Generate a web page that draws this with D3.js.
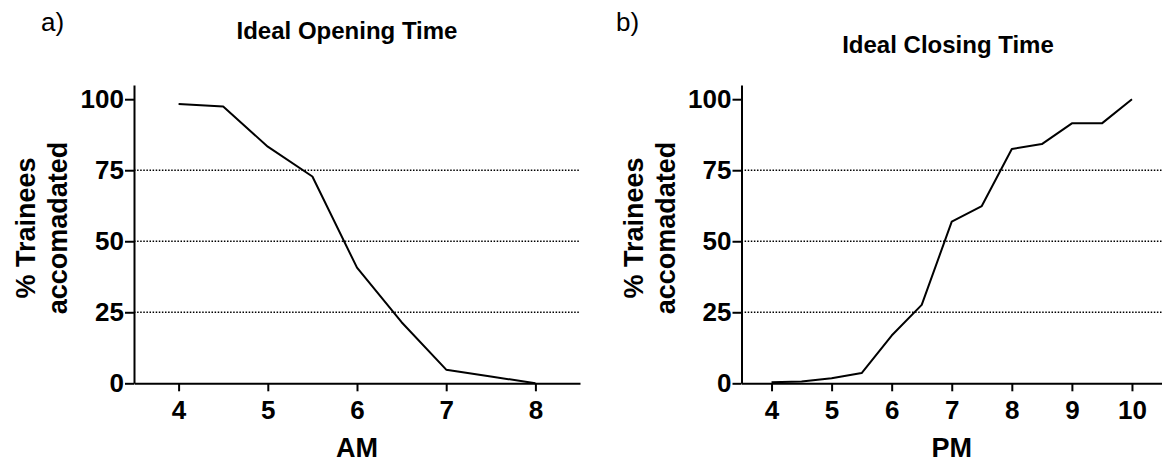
<!DOCTYPE html>
<html>
<head>
<meta charset="utf-8">
<script src="https://cdn.jsdelivr.net/npm/d3@7"></script>
<style>
  body { margin: 0; background: #fff; }
  text { font-family: "Liberation Sans", Arial, sans-serif; }
</style>
</head>
<body>
<div id="chart"></div>
<script>
// data
var openHours = [4, 4.5, 5, 5.5, 6, 6.5, 7, 7.5, 8];
var openPct = [98.3, 97.4, 83.3, 72.8, 40.7, 21.5, 4.8, 2.4, 0];
var closeHours = [4, 4.5, 5, 5.5, 6, 6.5, 7, 7.5, 8, 8.5, 9, 9.5, 10];
var closePct = [0.4, 0.6, 1.8, 3.6, 16.8, 27.6, 56.9, 62.4, 82.5, 84.2, 91.5, 91.5, 100];
var openTicks = [4, 5, 6, 7, 8];
var closeTicks = [4, 5, 6, 7, 8, 9, 10];
var yTicks = [0, 25, 50, 75, 100];
var gridTicks = [25, 50, 75];

var W = 1162, H = 464;
var svg = d3.select("#chart").append("svg")
    .attr("width", W)
    .attr("height", H);

function drawPanel(opt) {
    var x = d3.scaleLinear().domain(opt.xDomain).range([opt.left, opt.right]);
    var y = d3.scaleLinear().domain([0, 105]).range([383.3, 85]);
    var g = svg.append("g");

    // dotted grid lines
    g.selectAll(".grid")
        .data(gridTicks)
        .enter().append("line")
        .attr("x1", opt.left).attr("x2", opt.right)
        .attr("y1", function (d) { return y(d); })
        .attr("y2", function (d) { return y(d); })
        .attr("stroke", "#000")
        .attr("stroke-width", 1.4)
        .attr("stroke-dasharray", "1.5,1.6");

    // x axis
    var xa = g.append("g")
        .attr("transform", "translate(0," + y(0) + ")")
        .call(d3.axisBottom(x).tickValues(opt.ticks).tickFormat(d3.format("d"))
            .tickSize(8).tickSizeOuter(0).tickPadding(9));
    // y axis
    var ya = g.append("g")
        .attr("transform", "translate(" + opt.left + ",0)")
        .call(d3.axisLeft(y).tickValues(yTicks).tickFormat(d3.format("d"))
            .tickSize(9).tickSizeOuter(0).tickPadding(1));

    [xa, ya].forEach(function (a) {
        a.select(".domain").attr("stroke", "#000").attr("stroke-width", 2);
        a.selectAll(".tick line").attr("stroke", "#000").attr("stroke-width", 2);
        a.selectAll(".tick text")
            .attr("fill", "#000")
            .style("font-size", "26px")
            .style("font-weight", "bold")
            .style("font-family", "'Liberation Sans', Arial, sans-serif");
    });

    // the line
    g.append("path")
        .datum(d3.zip(opt.xs, opt.ys))
        .attr("fill", "none")
        .attr("stroke", "#000")
        .attr("stroke-width", 2)
        .attr("stroke-linejoin", "round")
        .attr("d", d3.line()
            .x(function (d) { return x(d[0]); })
            .y(function (d) { return y(d[1]); }));

    // titles and labels
    g.append("text")
        .attr("x", opt.titleX).attr("y", opt.titleY)
        .attr("text-anchor", "middle")
        .style("font-size", "24px").style("font-weight", "bold")
        .text(opt.title);

    g.append("text")
        .attr("x", opt.letterX).attr("y", 31)
        .style("font-size", "26px")
        .text(opt.letter);

    g.append("text")
        .attr("x", (opt.left + opt.right) / 2).attr("y", 457)
        .attr("text-anchor", "middle")
        .style("font-size", "27px").style("font-weight", "bold")
        .text(opt.xLabel);

    var yl = g.append("text")
        .attr("transform", "translate(" + (opt.left - 99) + ",228) rotate(-90)")
        .attr("text-anchor", "middle")
        .style("font-size", "27px").style("font-weight", "bold");
    yl.append("tspan").attr("x", 0).attr("y", 0).text("% Trainees");
    yl.append("tspan").attr("x", 0).attr("y", 32).text("accomadated");
}

drawPanel({
    xDomain: [3.5, 8.5], left: 134, right: 580,
    ticks: openTicks, xs: openHours, ys: openPct,
    title: "Ideal Opening Time", titleX: 347, titleY: 39,
    letter: "a)", letterX: 41, xLabel: "AM"
});

drawPanel({
    xDomain: [3.5, 10.5], left: 741.5, right: 1162,
    ticks: closeTicks, xs: closeHours, ys: closePct,
    title: "Ideal Closing Time", titleX: 948, titleY: 53,
    letter: "b)", letterX: 616, xLabel: "PM"
});
</script>
</body>
</html>
